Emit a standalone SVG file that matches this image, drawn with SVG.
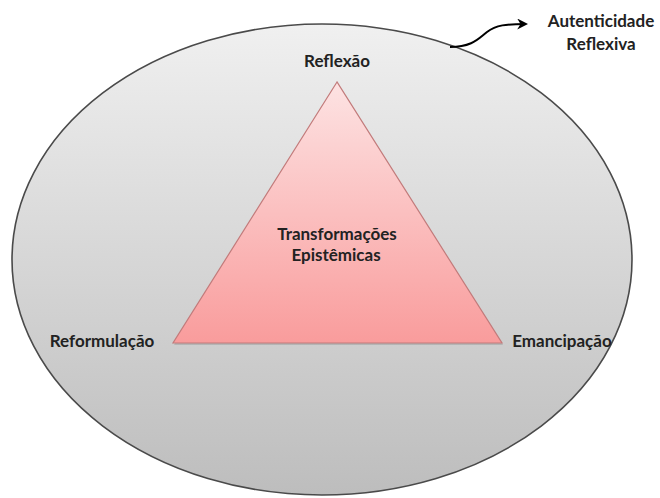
<svg xmlns="http://www.w3.org/2000/svg" width="660" height="498" viewBox="0 0 660 498">
  <defs>
    <linearGradient id="gEll" x1="0" y1="0" x2="0" y2="1">
      <stop offset="0" stop-color="#f0f0f0"/>
      <stop offset="1" stop-color="#bdbdbd"/>
    </linearGradient>
    <linearGradient id="gTri" x1="0" y1="0" x2="0" y2="1">
      <stop offset="0" stop-color="#fde3e3"/>
      <stop offset="1" stop-color="#f99c9c"/>
    </linearGradient>
    <marker id="arr" viewBox="0 0 10 10" refX="8" refY="5" markerWidth="5.5" markerHeight="5.5" orient="auto" markerUnits="strokeWidth">
      <path d="M0,0 L10,5 L0,10 L3,5 z" fill="#000"/>
    </marker>
  </defs>
  <style>
    .lbl { font-family: Lato, "Liberation Sans", sans-serif; font-weight: bold; font-size: 17px; fill: #222; text-anchor: middle; }
    .ell { fill: url(#gEll); stroke: #4a4a4a; stroke-width: 1.6; }
    .tri { fill: url(#gTri); stroke: #c27b7b; stroke-width: 1.2; }
    .shadow { fill: #000; opacity: 0.12; }
    .conn { fill: none; stroke: #000; stroke-width: 2; }
  </style>
  <rect width="660" height="498" fill="#ffffff"/>
  <g id="autenticidade-reflexiva">
    <ellipse class="ell" cx="322" cy="259.5" rx="310" ry="235.5"/>
  </g>
  <g id="transformacoes">
    <polygon class="shadow" points="338,84 174,345 503,345"/>
    <polygon class="tri" points="337,82 173,343 502,343"/>
    <text class="lbl" x="337" y="240">Transformações</text>
    <text class="lbl" x="336" y="261">Epistêmicas</text>
  </g>
  <g id="reflexao">
    <text class="lbl" x="337" y="67">Reflexão</text>
  </g>
  <g id="reformulacao">
    <text class="lbl" x="102" y="347">Reformulação</text>
  </g>
  <g id="emancipacao">
    <text class="lbl" x="562" y="347">Emancipação</text>
  </g>
  <g id="autenticidade-label">
    <text class="lbl" x="601" y="27">Autenticidade</text>
    <text class="lbl" x="601" y="50">Reflexiva</text>
  </g>
  <g id="connectors">
    <path class="conn" d="M450,47 C472,47 478,39 487,32 C496,25 506,24 526,24" marker-end="url(#arr)"/>
  </g>
</svg>
